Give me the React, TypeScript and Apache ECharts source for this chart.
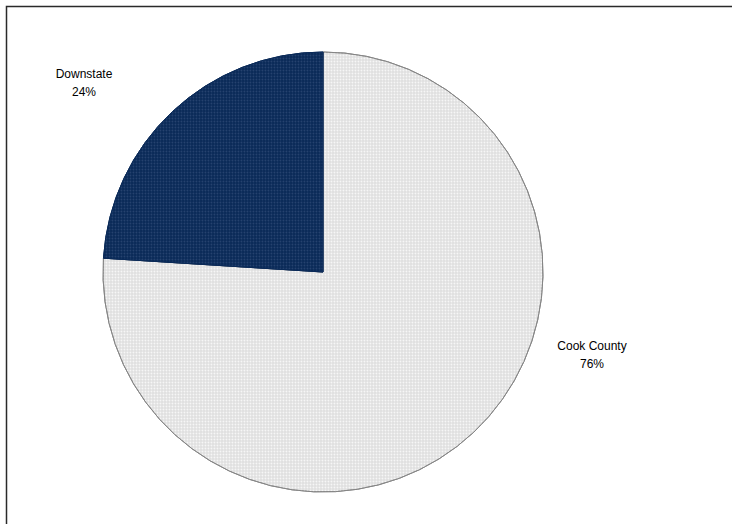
import React, { useEffect, useRef } from "react";
import * as echarts from "echarts";

const categories = ["Cook County", "Downstate"];
const shares = [76, 24];
const sliceColors = ["#e0e0e0", "#0a2a58"];
const dotColors = ["rgba(255,255,255,0.7)", "rgba(70,95,140,0.45)"];
const labelPositions = [
  { x: 592, y: 355 },
  { x: 84, y: 83 },
];

export default function App() {
  const ref = useRef<HTMLDivElement>(null);
  useEffect(() => {
    if (!ref.current) return;
    const chart = echarts.init(ref.current, null, { renderer: "svg" });
    chart.setOption({
      animation: false,
      backgroundColor: "#ffffff",
      graphic: [
        {
          type: "rect",
          shape: { x: 6.5, y: 6.5, width: 760, height: 560 },
          style: { fill: "none", stroke: "#2a2a2a", lineWidth: 1.5 },
          silent: true,
        },
      ],
      series: [
        {
          type: "pie",
          center: [323, 272],
          radius: 220,
          startAngle: 90,
          clockwise: true,
          avoidLabelOverlap: false,
          labelLine: { show: false },
          label: {
            show: true,
            formatter: (p: any) => `${p.name}\n${p.value}%`,
            fontFamily: "Liberation Sans, Arial, sans-serif",
            fontSize: 12,
            lineHeight: 18,
            color: "#000",
            align: "center",
          },
          labelLayout: (params: any) => ({
            x: labelPositions[params.dataIndex].x,
            y: labelPositions[params.dataIndex].y,
            align: "center",
            verticalAlign: "middle",
          }),
          emphasis: { disabled: true },
          data: categories.map((name, i) => ({
            name,
            value: shares[i],
            itemStyle: {
              color: sliceColors[i],
              borderColor: i === 0 ? "#858585" : sliceColors[i],
              borderWidth: 1,
              decal: {
                symbol: "circle",
                symbolSize: 0.55,
                dashArrayX: [3, 0],
                dashArrayY: [3, 0],
                color: dotColors[i],
                rotation: 0,
              },
            },
          })),
        },
      ],
    });
    return () => chart.dispose();
  }, []);
  return (
    <div
      ref={ref}
      style={{ position: "fixed", left: 0, top: 0, width: 732, height: 524 }}
    />
  );
}
